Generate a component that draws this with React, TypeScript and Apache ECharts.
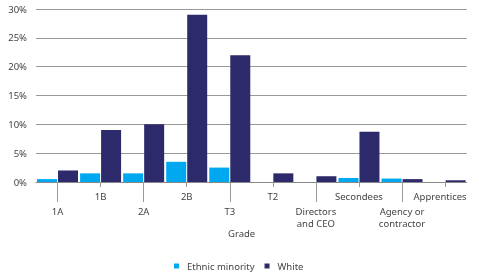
import React, { useEffect, useRef } from "react";
import * as echarts from "echarts";

const categories = ["1A", "1B", "2A", "2B", "T3", "T2", "Directors\nand CEO", "Secondees", "Agency or\ncontractor", "Apprentices"];
const ethnicMinority = [0.5, 1.5, 1.5, 3.5, 2.5, 0, 0, 0.7, 0.6, 0];
const white = [2.0, 9.0, 10.0, 29.0, 22.0, 1.5, 1.0, 8.7, 0.5, 0.3];
const yTicks = { min: 0, max: 30, interval: 5 };

const FONT = "'Noto Sans', sans-serif";
const TXT = "#444";

export default function App() {
  const ref = useRef<HTMLDivElement>(null);
  useEffect(() => {
    if (!ref.current) return;
    const chart = echarts.init(ref.current, null, { renderer: "svg" });
    const labelFmt = (v: string) => (v === "Apprentices" ? "{r|" + v + "}" : v);
    const rich = { r: { fontFamily: FONT, fontSize: 9.5, color: TXT, padding: [0, 10, 0, 0] } };
    chart.setOption({
      animation: false,
      grid: { left: 36, right: 0, top: 9, bottom: 94, containLabel: false },
      legend: {
        bottom: 5,
        left: 174,
        padding: 0,
        itemWidth: 5,
        itemHeight: 5,
        itemGap: 10,
        icon: "rect",
        textStyle: { fontFamily: FONT, fontSize: 9.5, color: TXT, padding: [0, 0, 0, 3] },
        data: ["Ethnic minority", "White"],
      },
      graphic: [
        {
          type: "text",
          left: 228,
          top: 228,
          style: { text: "Grade", fontFamily: FONT, fontSize: 9.5, fill: TXT },
        },
      ],
      xAxis: [
        {
          type: "category",
          data: categories,
          position: "bottom",
          axisLine: { show: true, lineStyle: { color: "#888", width: 1 } },
          axisTick: {
            show: true,
            length: 5,
            alignWithLabel: true,
            interval: (i: number) => i % 2 === 1,
            lineStyle: { color: "#999" },
          },
          axisLabel: {
            interval: (i: number) => i % 2 === 1,
            margin: 9,
            fontFamily: FONT,
            fontSize: 9.5,
            color: TXT,
            lineHeight: 11,
            formatter: labelFmt,
            rich,
          },
        },
        {
          type: "category",
          data: categories,
          position: "bottom",
          offset: 0,
          axisLine: { show: false },
          axisTick: {
            show: true,
            length: 20,
            alignWithLabel: true,
            interval: (i: number) => i % 2 === 0,
            lineStyle: { color: "#999" },
          },
          axisLabel: {
            interval: (i: number) => i % 2 === 0,
            margin: 23.5,
            fontFamily: FONT,
            fontSize: 9.5,
            color: TXT,
            lineHeight: 12,
          },
        },
      ],
      yAxis: {
        type: "value",
        min: yTicks.min,
        max: yTicks.max,
        interval: yTicks.interval,
        axisLine: { show: false },
        axisTick: { show: false },
        axisLabel: { formatter: "{value}%", fontFamily: FONT, fontSize: 9.5, color: TXT, margin: 9 },
        splitLine: { lineStyle: { color: "#999", width: 1 } },
      },
      series: [
        {
          name: "Ethnic minority",
          type: "bar",
          xAxisIndex: 0,
          data: ethnicMinority,
          barWidth: 20,
          barGap: "5%",
          itemStyle: { color: "#00A8F0" },
        },
        {
          name: "White",
          type: "bar",
          xAxisIndex: 0,
          data: white,
          barWidth: 20,
          barGap: "5%",
          itemStyle: { color: "#2C2A6B" },
        },
      ],
    });
    return () => chart.dispose();
  }, []);
  return <div ref={ref} style={{ position: "fixed", left: 0, top: 0, width: 479, height: 276 }} />;
}
